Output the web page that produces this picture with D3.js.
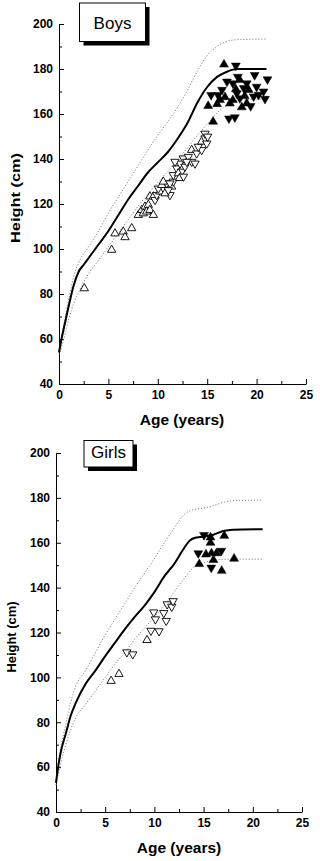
<!DOCTYPE html>
<html><head><meta charset="utf-8">
<script src="https://cdn.jsdelivr.net/npm/d3@7"></script>
<style>
body{margin:0;background:#fff}
svg{display:block}
text{font-family:"Liberation Sans",Arial,Helvetica,sans-serif}
</style>
</head><body>
<svg id="chart" width="320" height="861"></svg>
<script>
// ---------- data ----------
const ageTicks = [0,5,10,15,20,25];
const ageMinor = [2.5,7.5,12.5,17.5,22.5];
const heightTicks = [40,60,80,100,120,140,160,180,200];
const heightMinor = [50,70,90,110,130,150,170,190];

const boysMedian = [[0,54],[0.3,61],[0.6,67],[1,75],[1.5,84],[2,90],[2.5,93],[3,96],[4,102],[5,108],[6,115],[7,122],[8,128],[9,134],[10,138.5],[11,143],[12,149],[13,156],[14,165],[15,172],[16,176.5],[17,178.8],[18,180],[21,180]];
const boysUpper = [[0,55],[0.3,62],[0.6,69],[1,78],[1.5,88],[2,94],[3,101],[4,108],[5,116],[6,123],[7,130],[8,137],[9,144],[10,150.5],[11,156.5],[12,163],[13,170.5],[14,179],[15,186],[16,190],[17,192.3],[18,193],[21,193.3]];
const boysLower = [[0,53],[0.3,57],[0.6,62],[1,69],[1.5,76],[2,81],[3,89],[4,95],[5,101],[6,107],[7,113],[8,119],[9,124.5],[10,129.5],[11,134.5],[12,139.5],[13,145],[14,150.5],[15,155.5],[16,160.5],[17,164],[18,166],[21,166.7]];

const girlsMedian = [[0,53],[0.25,61],[0.5,67],[1,75],[1.5,83],[2,88.5],[3,97],[4,103],[5,109.5],[6,115.5],[7,121.5],[8,127],[9,132],[10,138],[11,145],[12,150.5],[13,157.5],[13.6,161],[14,162],[15,162.8],[16,163.6],[17,165.2],[18,165.8],[21,166]];
const girlsUpper = [[0,54],[0.25,62],[0.5,69],[1,79],[1.5,89],[2,96],[3,103],[4,111],[5,119],[6,126],[7,133],[8,140],[9,146.5],[10,153],[11,160],[12,166.5],[13,172.5],[14,174.8],[15,175.4],[16,176.5],[17,178],[18,178.7],[21,179]];
const girlsLower = [[0,52],[0.5,62],[1,70],[2,82],[3,88],[4,94],[5,100],[6,106],[7,111],[8,117],[9,122],[10,127],[11,132],[12,138],[13,144],[14,149],[15,151],[16,152.3],[18,152.7],[21,152.7]];

// open triangles (younger), [age, height, direction]
const boysOpen = [
 [2.56,82.5,"up"],[5.33,99.6,"up"],[5.67,106.9,"up"],[6.5,107.7,"up"],[6.68,105.2,"up"],[7.36,109.2,"up"],
 [8.03,115.1,"up"],[8.37,117.3,"up"],[8.7,118.8,"up"],[9.04,119.6,"up"],[8.53,115.8,"up"],[8.87,116.6,"up"],
 [9.2,117.3,"up"],[9.55,115.1,"up"],[9.2,123.3,"up"],[9.55,123.3,"up"],[9.72,121.8,"down"],[9.89,124,"down"],
 [10.2,125.5,"up"],[10.05,126.9,"down"],[10.4,128.4,"up"],[10.9,129.2,"down"],[11.4,127.7,"up"],[11.23,124,"down"],
 [10.73,124.7,"up"],[11.06,126.2,"down"],[11.57,130,"down"],[10.56,129.9,"up"],[11.23,129.2,"down"],
 [11.57,132.9,"down"],[11.91,135.9,"down"],[12.25,138,"down"],[11.74,138.8,"down"],[12.42,134.4,"down"],
 [12.75,136.6,"down"],[12.08,133.6,"up"],[12.58,140.3,"down"],[13.09,141,"down"],[13.43,138.8,"down"],
 [12.93,138.8,"down"],[12.2,131.5,"up"],[12.6,132.2,"down"],[13.43,144,"up"],[13.94,142.5,"down"],
 [13.77,138,"down"],[14.44,144,"down"],[14.1,145.5,"down"],[14.44,147.7,"up"],[14.78,149.2,"down"],
 [14.95,146.9,"down"],[14.78,151.3,"down"],[15.05,150,"down"]
];
const boysFilled = [
 [16.7,182,"up"],[17.9,181.5,"down"],[19.8,177.3,"down"],[21.1,175.4,"down"],[20.7,170,"down"],[20.85,166.7,"down"],
 [15.1,163.6,"up"],[15.6,156.6,"up"],[17.2,158,"down"],[17.8,158.5,"down"],[15.4,168.4,"down"],[16.1,168.4,"down"],
 [16.3,166.2,"up"],[16.8,167.5,"up"],[17,174.4,"down"],[17.6,173.6,"down"],[18.3,175.1,"up"],[19,173.6,"down"],
 [20,172.1,"down"],[19.2,170.7,"up"],[18,169.2,"down"],[17.6,166.2,"up"],[19,164.7,"up"],[18.3,167,"down"],
 [19.7,167.8,"down"],[17.3,164.7,"up"],[16.5,170.7,"down"],[16,164.4,"up"],[18.7,171.5,"down"],[17.9,171,"up"],
 [18.8,168,"up"],[19.4,163.5,"down"],[18.5,163,"up"],[20.2,168.5,"down"],[18.1,176.5,"down"]
];
const girlsOpen = [
 [5.6,98.4,"up"],[6.4,101.5,"up"],[7.2,111.2,"down"],[7.8,110.3,"down"],[9.25,116.6,"up"],[9.65,120.8,"down"],
 [10.47,120.6,"down"],[9.93,129,"down"],[10.1,125.9,"down"],[10.95,128.7,"down"],[11.2,125.2,"down"],
 [11.3,132.6,"down"],[11.76,131.5,"down"],[11.9,134,"down"]
];
const girlsFilled = [
 [15.04,163.4,"down"],[15.7,162.4,"up"],[15.7,160,"up"],[17.1,163.1,"up"],[14.46,155.3,"down"],[15.24,154.8,"up"],
 [15.8,155.3,"up"],[16.3,155.3,"up"],[16.8,156.4,"down"],[16.0,152.3,"up"],[14.56,150.5,"up"],[15.78,148.9,"down"],
 [16.84,147.5,"up"],[18.1,152.9,"up"]
];

// ---------- drawing ----------
const svg = d3.select("#chart");

function panel(cfg){
  const x = d3.scaleLinear().domain([0,25]).range([cfg.x0, cfg.x1]);
  const y = d3.scaleLinear().domain([40,200]).range([cfg.y0, cfg.y1]);
  const g = svg.append("g");

  // axes
  const yAx = g.append("g").attr("transform",`translate(${cfg.x0},0)`)
    .call(d3.axisLeft(y).tickValues(heightTicks).tickSize(-5).tickSizeOuter(0).tickPadding(6));
  g.append("g").attr("transform",`translate(${cfg.x0},0)`)
    .call(d3.axisLeft(y).tickValues(heightMinor).tickSize(-3).tickSizeOuter(0).tickFormat(""))
    .select(".domain").remove();
  const xAx = g.append("g").attr("transform",`translate(0,${cfg.y0})`)
    .call(d3.axisBottom(x).tickValues(ageTicks).tickSize(-5).tickSizeOuter(0).tickPadding(6));
  g.append("g").attr("transform",`translate(0,${cfg.y0})`)
    .call(d3.axisBottom(x).tickValues(ageMinor).tickSize(-3).tickSizeOuter(0).tickFormat(""))
    .select(".domain").remove();
  g.selectAll(".tick text").attr("font-size",12).attr("font-weight","bold")
    .attr("font-family",'"Liberation Sans",Arial,sans-serif').attr("fill","#000");
  g.selectAll(".domain").attr("stroke","#000").attr("stroke-width",1);
  g.selectAll(".tick line").attr("stroke","#000");

  // axis titles
  g.append("text").attr("x",cfg.xt).attr("y",cfg.yt).attr("text-anchor","middle")
    .attr("font-size",15.5).attr("font-weight","bold").text("Age (years)");
  g.append("text").attr("transform",`translate(${cfg.hx},${cfg.hy}) rotate(-90)`)
    .attr("text-anchor","middle").attr("font-size",12.5).attr("font-weight","bold")
    .attr("textLength",cfg.hlen).attr("lengthAdjust","spacingAndGlyphs").text("Height (cm)");

  // curves
  const line = d3.line().x(d=>x(d[0])).y(d=>y(d[1])).curve(d3.curveMonotoneX);
  [cfg.upper,cfg.lower].forEach(dat=>{
    g.append("path").datum(dat).attr("d",line).attr("fill","none")
     .attr("stroke","#777").attr("stroke-width",0.9).attr("stroke-dasharray","1.2,1.8");
  });
  g.append("path").datum(cfg.median).attr("d",line).attr("fill","none")
   .attr("stroke","#000").attr("stroke-width",2);

  // points
  const sym = d3.symbol().type(d3.symbolTriangle);
  g.append("g").selectAll("path").data(cfg.open).join("path")
    .attr("d",sym.size(30)())
    .attr("transform",d=>`translate(${x(d[0])},${y(d[1])}) rotate(${d[2]==="up"?0:180})`)
    .attr("fill","#fff").attr("stroke","#000").attr("stroke-width",0.9);
  g.append("g").selectAll("path").data(cfg.filled).join("path")
    .attr("d",d3.symbol().type(d3.symbolTriangle).size(34)())
    .attr("transform",d=>`translate(${x(d[0])},${y(d[1])}) rotate(${d[2]==="up"?0:180})`)
    .attr("fill","#000").attr("stroke","#000").attr("stroke-width",0.5);

  // label box with shadow
  const b = cfg.box;
  g.append("rect").attr("x",b.x+4).attr("y",b.y+4).attr("width",b.w).attr("height",b.h).attr("fill","#000");
  g.append("rect").attr("x",b.x).attr("y",b.y).attr("width",b.w).attr("height",b.h)
    .attr("fill","#fff").attr("stroke","#000").attr("stroke-width",1);
  g.append("text").attr("x",b.x+b.w/2).attr("y",b.ty).attr("text-anchor","middle")
    .attr("font-size",17).text(cfg.label);
}

panel({x0:59,x1:306,y0:384,y1:24,xt:182,yt:425,hx:20,hy:198,hlen:90,
  median:boysMedian,upper:boysUpper,lower:boysLower,open:boysOpen,filled:boysFilled,
  box:{x:79.5,y:3,w:66,h:38.5,ty:29},label:"Boys"});
panel({x0:56,x1:302,y0:812,y1:453,xt:179,yt:853,hx:16,hy:637,hlen:71,
  median:girlsMedian,upper:girlsUpper,lower:girlsLower,open:girlsOpen,filled:girlsFilled,
  box:{x:84,y:440.5,w:49,h:26.5,ty:458},label:"Girls"});
</script>
</body></html>
